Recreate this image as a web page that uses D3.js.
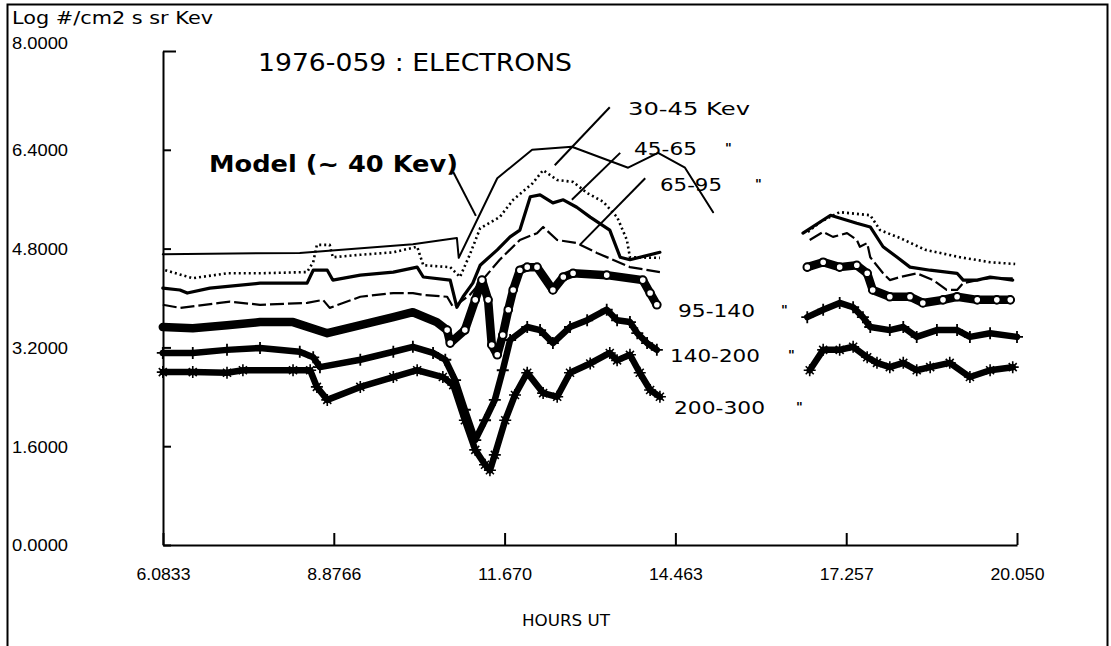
<!DOCTYPE html>
<html>
<head>
<meta charset="utf-8">
<script src="https://cdn.jsdelivr.net/npm/d3@7"></script>
<style>
  body { margin: 0; background: #fff; }
  svg { display: block; font-family: "DejaVu Sans", sans-serif; }
</style>
</head>
<body>
<div id="chart"></div>
<script>
// axis ticks
const xTicks = [6.0833, 8.8766, 11.670, 14.463, 17.257, 20.050];
const xTickLabels = ["6.0833", "8.8766", "11.670", "14.463", "17.257", "20.050"];
const yTicks = [0, 1.6, 3.2, 4.8, 6.4, 8.0];
const yTickLabels = ["0.0000", "1.6000", "3.2000", "4.8000", "6.4000", "8.0000"];

// [hours UT, log flux] ; null = data gap
const model = [[6.08,4.71],[8.32,4.73],[10.17,4.87],[10.89,4.97],[10.92,4.65],[11.55,5.94],[12.12,6.40],
  [12.77,6.45],[13.69,6.11],[14.18,6.35],[14.62,6.11],[15.08,5.39]];

const e30_45 = [[6.12,4.45],[6.57,4.32],[7.13,4.40],[7.67,4.40],[8.44,4.42],[8.54,4.58],[8.60,4.86],[8.81,4.86],
  [8.86,4.66],[9.31,4.70],[9.85,4.74],[10.24,4.83],[10.34,4.53],[10.78,4.50],[10.94,4.34],[11.10,4.70],[11.27,5.13],
  [11.59,5.31],[11.81,5.59],[12.13,5.86],[12.30,6.07],[12.53,5.91],[12.79,5.88],[13.02,5.70],[13.28,5.56],[13.51,5.31],
  [13.67,4.94],[13.72,4.66],[14.21,4.65], null,
  [16.63,5.07],[16.83,5.23],[17.15,5.39],[17.65,5.34],[17.81,5.10],[18.14,4.97],[18.55,4.78],[19.12,4.66],[19.61,4.58],[20.02,4.55]];

const e45_65 = [[6.08,4.16],[6.36,4.13],[6.48,4.08],[6.85,4.16],[7.67,4.24],[8.44,4.24],[8.54,4.45],[8.77,4.45],
  [8.86,4.29],[9.31,4.37],[9.85,4.42],[10.24,4.50],[10.34,4.34],[10.78,4.29],[10.89,3.85],[10.99,4.02],[11.15,4.24],
  [11.27,4.53],[11.55,4.78],[11.76,4.99],[11.92,5.10],[12.09,5.64],[12.25,5.67],[12.46,5.54],[12.63,5.59],[12.85,5.47],
  [13.07,5.31],[13.39,5.10],[13.56,4.66],[13.72,4.62],[14.21,4.74], null,
  [16.55,5.05],[17.00,5.34],[17.43,5.21],[17.65,5.15],[17.86,4.83],[18.09,4.66],[18.30,4.50],[18.63,4.45],[19.07,4.40],
  [19.17,4.29],[19.40,4.29],[19.61,4.34],[19.98,4.29]];

const e65_95 = [[6.08,3.89],[6.36,3.84],[7.01,3.92],[7.18,3.94],[7.67,3.89],[8.44,3.92],[8.70,3.97],[8.81,3.84],
  [9.31,4.02],[9.85,4.08],[10.17,4.08],[10.34,4.05],[10.73,4.02],[10.83,3.85],[11.10,4.05],[11.59,4.62],[11.92,4.94],
  [12.20,5.05],[12.30,5.15],[12.53,4.94],[12.85,4.89],[13.18,4.73],[13.44,4.62],[13.72,4.50],[14.21,4.42], null,
  [16.66,4.94],[16.88,5.07],[17.04,4.99],[17.27,5.05],[17.43,4.94],[17.48,4.83],[17.60,4.89],[17.65,4.66],[17.86,4.40],
  [17.97,4.29],[18.14,4.34],[18.41,4.40],[18.68,4.29],[18.90,4.13],[19.07,4.13],[19.17,4.24],[19.40,4.29],[19.61,4.32],[19.98,4.32]];

const e95_140 = [[6.08,3.53],[6.57,3.51],[7.13,3.56],[7.67,3.61],[8.21,3.61],[8.77,3.43],[9.31,3.56],[9.85,3.69],
  [10.17,3.77],[10.56,3.61],[10.73,3.48],[10.78,3.27],[11.02,3.48],[11.19,3.97],[11.30,4.29],[11.40,3.97],[11.46,3.24],
  [11.55,3.08],[11.64,3.40],[11.73,3.81],[11.81,4.13],[11.92,4.45],[12.04,4.50],[12.20,4.50],[12.46,4.13],[12.63,4.34],
  [12.79,4.40],[13.34,4.37],[13.93,4.29],[14.05,4.08],[14.16,3.89], null,
  [16.62,4.50],[16.88,4.58],[17.15,4.50],[17.43,4.53],[17.60,4.40],[17.69,4.13],[17.97,4.02],[18.30,4.02],[18.51,3.92],
  [18.84,3.97],[19.07,4.02],[19.40,3.97],[19.72,3.97],[19.94,3.97]];

const e140_200 = [[6.08,3.11],[6.57,3.11],[7.13,3.16],[7.67,3.19],[8.32,3.13],[8.54,3.04],[8.65,2.88],[9.31,3.00],
  [9.85,3.13],[10.17,3.21],[10.50,3.11],[10.70,3.00],[10.86,2.67],[11.02,2.19],[11.19,1.70],[11.35,2.02],[11.51,2.35],
  [11.64,2.83],[11.76,3.32],[12.04,3.53],[12.25,3.48],[12.46,3.27],[12.74,3.53],[13.02,3.64],[13.34,3.81],[13.51,3.64],
  [13.72,3.61],[13.84,3.43],[14.00,3.27],[14.16,3.16], null,
  [16.62,3.69],[16.88,3.81],[17.15,3.92],[17.37,3.85],[17.53,3.69],[17.65,3.53],[17.97,3.48],[18.19,3.53],[18.41,3.37],
  [18.74,3.48],[19.07,3.48],[19.28,3.37],[19.61,3.43],[20.05,3.37]];

const e200_300 = [[6.08,2.80],[6.57,2.80],[7.13,2.79],[7.39,2.83],[8.21,2.83],[8.49,2.83],[8.60,2.56],[8.77,2.35],
  [9.31,2.56],[9.85,2.72],[10.24,2.83],[10.66,2.72],[10.83,2.59],[11.02,2.02],[11.19,1.54],[11.35,1.30],[11.43,1.21],
  [11.51,1.46],[11.68,2.02],[11.84,2.43],[12.04,2.79],[12.30,2.46],[12.53,2.40],[12.74,2.79],[13.07,2.94],[13.39,3.11],
  [13.51,2.99],[13.72,3.08],[13.88,2.79],[14.05,2.51],[14.21,2.40], null,
  [16.66,2.83],[16.88,3.16],[17.15,3.16],[17.37,3.21],[17.60,3.04],[17.76,2.95],[17.97,2.88],[18.19,2.95],[18.41,2.83],
  [18.63,2.88],[18.95,2.95],[19.28,2.72],[19.61,2.83],[19.98,2.88]];

// leader lines from labels to curves: [h1, v1, h2, v2]
const leaders = [[10.83,6.04,11.20,5.33],[13.39,7.09,12.49,6.15],[13.56,6.35,12.77,5.59],[13.97,5.94,12.90,4.86]];

const width = 1111, height = 646;

const svg = d3.select("#chart")
  .append("svg")
  .attr("width", width)
  .attr("height", height);

svg.append("rect")
  .attr("x", 7.5).attr("y", 4.5)
  .attr("width", 1100).attr("height", 660)
  .attr("fill", "none")
  .attr("stroke", "black")
  .attr("stroke-width", 2);

const x = d3.scaleLinear().domain([6.0833, 20.05]).range([163, 1017]);
const y = d3.scaleLinear().domain([0, 8]).range([545, 51]);

const xAxis = d3.axisBottom(x)
  .tickValues(xTicks)
  .tickFormat((d, i) => xTickLabels[i])
  .tickSizeInner(-12)
  .tickSizeOuter(0)
  .tickPadding(23);

const yAxis = d3.axisLeft(y)
  .tickValues(yTicks)
  .tickFormat((d, i) => yTickLabels[i])
  .tickSizeInner(-8)
  .tickSizeOuter(0);

const gx = svg.append("g")
  .attr("transform", `translate(0,${y(0)})`)
  .call(xAxis);

const gy = svg.append("g")
  .attr("transform", `translate(${x(6.0833)},0)`)
  .call(yAxis);

[gx, gy].forEach(g => {
  g.selectAll("path, line").attr("stroke", "black").attr("stroke-width", 2);
  g.selectAll("text").attr("fill", "black").style("font-size", "17px")
    .attr("textLength", 54).attr("lengthAdjust", "spacingAndGlyphs");
});

gy.selectAll("text")
  .attr("text-anchor", "start")
  .attr("x", 12 - x(6.0833))
  .attr("textLength", 56)
  .attr("dy", d => d === 8 ? "-0.15em" : "0.35em");
gy.selectAll(".tick line").filter(d => d === 8).attr("x2", 13);

svg.append("text")
  .attr("x", 566).attr("y", 626)
  .attr("text-anchor", "middle")
  .attr("textLength", 88).attr("lengthAdjust", "spacingAndGlyphs")
  .style("font-size", "16px")
  .text("HOURS UT");

svg.append("text")
  .attr("x", 12).attr("y", 24)
  .attr("textLength", 201).attr("lengthAdjust", "spacingAndGlyphs")
  .style("font-size", "17px")
  .text("Log #/cm2 s sr Kev");

svg.append("text")
  .attr("x", 258).attr("y", 71)
  .attr("textLength", 314).attr("lengthAdjust", "spacingAndGlyphs")
  .style("font-size", "24px")
  .text("1976-059 : ELECTRONS");

svg.append("text")
  .attr("x", 209).attr("y", 172)
  .attr("textLength", 249).attr("lengthAdjust", "spacingAndGlyphs")
  .style("font-size", "23px")
  .style("font-weight", "bold")
  .text("Model (~ 40 Kev)");

// channel labels: text, left x, baseline y, width, ditto x
const channelLabels = [
  ["30-45 Kev", 628, 115, 122, null],
  ["45-65", 634, 155, 63, 725],
  ["65-95", 660, 191, 62, 755],
  ["95-140", 678, 317, 77, 781],
  ["140-200", 670, 362, 90, 788],
  ["200-300", 674, 414, 91, 796]
];

channelLabels.forEach(([t, lx, ly, w, qx]) => {
  svg.append("text")
    .attr("x", lx).attr("y", ly)
    .attr("textLength", w).attr("lengthAdjust", "spacingAndGlyphs")
    .style("font-size", "18px")
    .text(t);
  if (qx) {
    svg.append("text")
      .attr("x", qx).attr("y", ly - 3)
      .attr("fill", "black")
      .style("font-size", "13px")
      .style("font-weight", "bold")
      .text('"');
  }
});

const line = d3.line()
  .defined(d => d !== null)
  .x(d => x(d[0]))
  .y(d => y(d[1]));

function drawSeries(data, w, dash) {
  svg.append("path")
    .datum(data)
    .attr("d", line)
    .attr("fill", "none")
    .attr("stroke", "black")
    .attr("stroke-width", w)
    .attr("stroke-linejoin", "round")
    .attr("stroke-linecap", dash ? "butt" : "round")
    .attr("stroke-dasharray", dash);
}

drawSeries(e200_300, 6.5, null);
drawSeries(e140_200, 6.5, null);
drawSeries(e95_140, 8.5, null);
drawSeries(e65_95, 2.2, "14,4");
drawSeries(e45_65, 3.2, null);
drawSeries(e30_45, 2.6, "2,3");
drawSeries(model, 2, null);

// markers
svg.selectAll(".star")
  .data(e200_300.filter(d => d !== null))
  .enter()
  .append("path")
  .attr("class", "star")
  .attr("transform", d => `translate(${x(d[0])},${y(d[1])})`)
  .attr("d", "M-6,0H6M0,-6V6M-4,-4L4,4M-4,4L4,-4")
  .attr("stroke", "black")
  .attr("stroke-width", 1.6);

svg.selectAll(".plus")
  .data(e140_200.filter(d => d !== null))
  .enter()
  .append("path")
  .attr("class", "plus")
  .attr("transform", d => `translate(${x(d[0])},${y(d[1])})`)
  .attr("d", "M-6,0H6M0,-6V6")
  .attr("stroke", "black")
  .attr("stroke-width", 1.8);

svg.selectAll(".ring")
  .data(e95_140.filter(d => d !== null && d[0] > 10.7))
  .enter()
  .append("circle")
  .attr("class", "ring")
  .attr("cx", d => x(d[0]))
  .attr("cy", d => y(d[1]))
  .attr("r", 3.8)
  .attr("fill", "white")
  .attr("stroke", "black")
  .attr("stroke-width", 2);

svg.selectAll(".leader")
  .data(leaders)
  .enter()
  .append("line")
  .attr("class", "leader")
  .attr("x1", d => x(d[0])).attr("y1", d => y(d[1]))
  .attr("x2", d => x(d[2])).attr("y2", d => y(d[3]))
  .attr("stroke", "black")
  .attr("stroke-width", 2);
</script>
</body>
</html>
